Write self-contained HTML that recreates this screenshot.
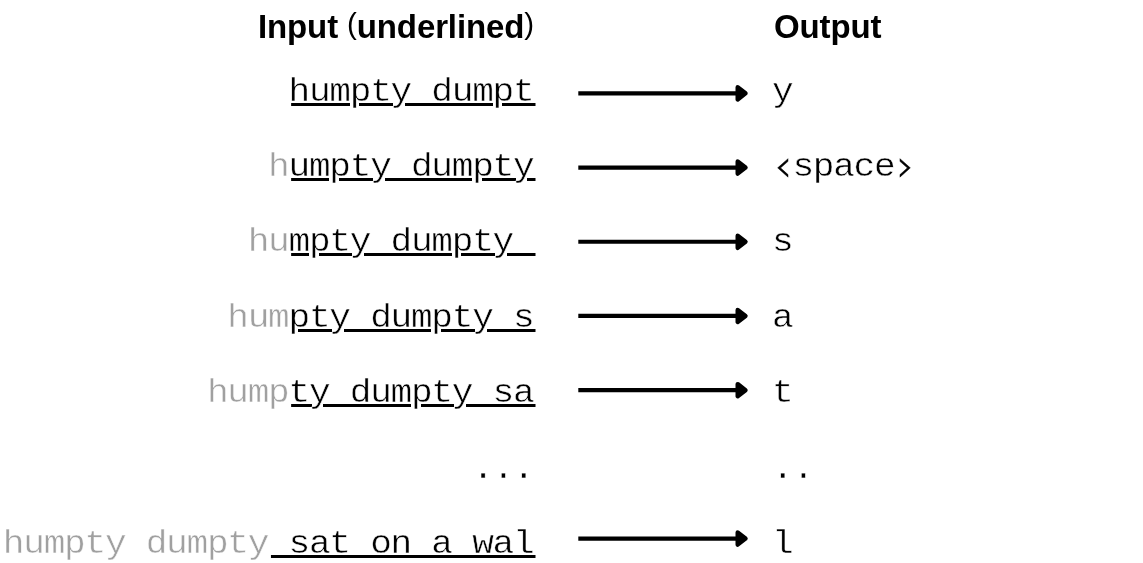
<!DOCTYPE html>
<html lang="en">
<head>
<meta charset="utf-8">
<title>Input / Output</title>
<style>
html,body{margin:0;padding:0;background:#fff;}
body{width:1143px;height:563px;position:relative;overflow:hidden;will-change:transform;font-family:"Liberation Mono",monospace;color:#000;}
.h{position:absolute;font-family:"Liberation Sans",sans-serif;font-weight:700;font-size:33px;line-height:40px;white-space:pre;top:7px;letter-spacing:-0.12px;}
.h i{font-style:normal;font-weight:400;font-size:29.5px;position:relative;top:-3.6px;}
.hin{right:609px;text-align:right;}
.hout{left:774px;}
.col{position:absolute;top:0;height:563px;transform:scaleX(1.0625);transform-origin:0 0;}
.cin{left:0;width:502.02px;}
.cout{left:771.5px;width:300px;}
.in,.out{position:absolute;font-size:34px;line-height:40px;height:40px;white-space:pre;-webkit-text-stroke:0.45px #fff;letter-spacing:-1.2px;}
.in{right:0;text-align:right;}
.in s{text-decoration:none;color:#a0a0a0;}
.in u{text-decoration:underline #000;text-decoration-thickness:3px;text-underline-offset:2px;text-decoration-skip-ink:auto;}
.r::before,.r::after{content:"";position:absolute;top:31px;height:3px;}
.r::before{right:228.3px;background:#fff;top:30px;height:5px;width:3.4px;}
.r13::before{right:247.5px;}
.r::after{right:-2.2px;background:#000;width:3.2px;}
.out{left:0;}
.g{display:inline-block;width:19.2px;letter-spacing:0;transform:scaleX(0.94);text-align:center;font-family:"DejaVu Sans","Liberation Sans",sans-serif;font-weight:200;font-size:45px;line-height:0;position:relative;top:4.5px;left:0.9px;-webkit-text-stroke:0.4px #000;}
svg.ar{position:absolute;left:0;top:0;width:1143px;height:563px;}
</style>
</head>
<body>
<div class="h hin">Input <i>(</i>underlined<i>)</i></div>
<div class="h hout">Output</div>

<div class="col cin">
<div class="in r" style="top:72px"><u>humpty dumpt</u></div>
<div class="in r" style="top:147px"><s>h</s><u>umpty dumpty</u></div>
<div class="in r" style="top:222px"><s>hu</s><u>mpty dumpty </u></div>
<div class="in r" style="top:298px"><s>hum</s><u>pty dumpty s</u></div>
<div class="in r" style="top:373px"><s>hump</s><u>ty dumpty sa</u></div>
<div class="in" style="top:449.4px;right:0">...</div>
<div class="in r r13" style="top:524px"><s>humpty dumpty</s><u> sat on a wal</u></div>
</div>

<div class="col cout">
<div class="out" style="top:72px">y</div>
<div class="out" style="top:147px"><b class="g">‹</b>space<b class="g">›</b></div>
<div class="out" style="top:222px">s</div>
<div class="out" style="top:298px">a</div>
<div class="out" style="top:373px">t</div>
<div class="out" style="top:449.4px">..</div>
<div class="out" style="top:524px">l</div>
</div>

<svg class="ar" width="1143" height="563" viewBox="0 0 1143 563">
<path d="M578.3 93.35H738" stroke="#000" stroke-width="4.2" fill="none"/><path d="M737.7 87.3L745.5 93.35L737.7 99.4Z" fill="#000" stroke="#000" stroke-width="4.4" stroke-linejoin="round"/>
<path d="M578.3 167.55H738" stroke="#000" stroke-width="4.2" fill="none"/><path d="M737.7 161.5L745.5 167.55L737.7 173.6Z" fill="#000" stroke="#000" stroke-width="4.4" stroke-linejoin="round"/>
<path d="M578.3 241.75H738" stroke="#000" stroke-width="4.2" fill="none"/><path d="M737.7 235.7L745.5 241.75L737.7 247.8Z" fill="#000" stroke="#000" stroke-width="4.4" stroke-linejoin="round"/>
<path d="M578.3 315.95H738" stroke="#000" stroke-width="4.2" fill="none"/><path d="M737.7 309.9L745.5 315.95L737.7 322.0Z" fill="#000" stroke="#000" stroke-width="4.4" stroke-linejoin="round"/>
<path d="M578.3 390.15H738" stroke="#000" stroke-width="4.2" fill="none"/><path d="M737.7 384.1L745.5 390.15L737.7 396.2Z" fill="#000" stroke="#000" stroke-width="4.4" stroke-linejoin="round"/>
<path d="M578.3 538.55H738" stroke="#000" stroke-width="4.2" fill="none"/><path d="M737.7 532.5L745.5 538.55L737.7 544.6Z" fill="#000" stroke="#000" stroke-width="4.4" stroke-linejoin="round"/>
</svg>
</body>
</html>
